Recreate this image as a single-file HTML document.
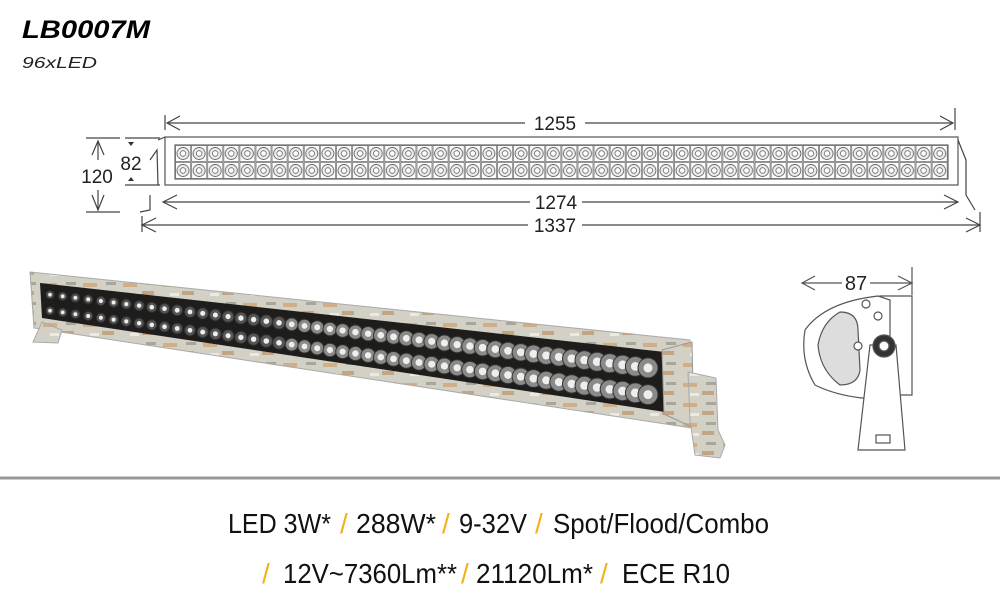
<!DOCTYPE html>
<html><head><meta charset="utf-8"><style>
body{margin:0;background:#fff;width:1000px;height:600px;overflow:hidden;font-family:"Liberation Sans",sans-serif}
</style></head><body>
<svg id="s" width="1000" height="600" viewBox="0 0 1000 600" xmlns="http://www.w3.org/2000/svg">
<defs>
<pattern id="leds" x="175" y="145" width="16.1" height="17" patternUnits="userSpaceOnUse">
<rect x="0.5" y="0.5" width="15" height="16" fill="#fff" stroke="#777" stroke-width="0.8"/>
<circle cx="8" cy="8.5" r="6" fill="#eee" stroke="#666" stroke-width="0.9"/>
<circle cx="8" cy="8.5" r="2.8" fill="#fff" stroke="#666" stroke-width="0.8"/>
</pattern>
<pattern id="camo" width="40" height="20" patternUnits="userSpaceOnUse">
<rect width="40" height="20" fill="#d3d0c6"/>
<rect x="3" y="3" width="14" height="4" fill="#d0ae88"/>
<rect x="22" y="11" width="12" height="4" fill="#c2a582"/>
<rect x="10" y="13" width="9" height="3" fill="#ebe9e4"/>
<rect x="26" y="2" width="10" height="3" fill="#a8a59b"/>
</pattern>
</defs>
<text x="22" y="38" font-size="25" font-weight="bold" font-style="italic" font-family="Liberation Sans" textLength="128" lengthAdjust="spacingAndGlyphs">LB0007M</text>
<text x="22" y="68" font-size="16" font-style="italic" font-family="Liberation Sans" fill="#222" textLength="75" lengthAdjust="spacingAndGlyphs">96xLED</text>

<g stroke="#444" fill="none" stroke-width="1.2">
<rect x="165" y="137" width="793" height="48" fill="#fff" stroke="#555"/>
<rect x="175" y="145" width="773" height="34" fill="url(#leds)" stroke="#666"/>
<path d="M158 140 L165 137 M150 195 L150 210 L140 212 M150 160 L157 150 L158 185"/>
<path d="M958 140 L966 160 L966 195 L975 210"/>
<line x1="165" y1="115" x2="165" y2="130"/><line x1="955" y1="108" x2="955" y2="130"/>
<line x1="168" y1="123" x2="525" y2="123"/><line x1="585" y1="123" x2="953" y2="123"/>
<path d="M180 116 L167 123 L180 130 M940 116 L953 123 L940 130"/>
<line x1="163" y1="202" x2="530" y2="202"/><line x1="582" y1="202" x2="958" y2="202"/>
<path d="M177 195 L163 202 L177 209 M944 195 L958 202 L944 209"/>
<line x1="142" y1="225" x2="528" y2="225"/><line x1="582" y1="225" x2="980" y2="225"/>
<line x1="142" y1="216" x2="142" y2="232"/><line x1="980" y1="212" x2="980" y2="232"/>
<path d="M156 218 L142 225 L156 232 M966 218 L980 225 L966 232"/>
<line x1="86" y1="138" x2="120" y2="138"/><line x1="86" y1="212" x2="120" y2="212"/>
<line x1="98" y1="141" x2="98" y2="160"/><line x1="98" y1="190" x2="98" y2="210"/>
<path d="M92 155 L98 141 L104 155 M92 195 L98 210 L104 195"/>
<line x1="125" y1="138" x2="160" y2="138"/><line x1="125" y1="185" x2="160" y2="185"/>
</g>
<path d="M128 142 L131 146 L134 142Z M128 181 L131 177 L134 181Z" fill="#333"/>
<g font-family="Liberation Sans" font-size="19" fill="#222" text-anchor="middle">
<text x="555" y="130">1255</text><text x="556" y="209">1274</text><text x="555" y="232">1337</text>
<text x="97" y="183">120</text><text x="131" y="170">82</text>
<text x="856" y="290" font-size="20">87</text>
</g>

<g stroke="#555" fill="#fff" stroke-width="1.2">
<line x1="802" y1="283" x2="842" y2="283"/><line x1="870" y1="283" x2="912" y2="283"/>
<path d="M815 276 L802 283 L815 290 M898 276 L912 283 L898 290" fill="none"/>
<line x1="912" y1="267" x2="912" y2="295"/>
<path d="M880 296 L912 296 L912 395 L883 395Z"/>
<path d="M878 296 Q825 302 805 330 Q800 360 815 385 Q835 395 862 398 L890 396 L890 300Z"/>
<path d="M840 312 Q822 322 818 345 Q820 370 840 385 Q858 385 860 370 L858 330 Q858 312 840 312Z" fill="#ddd"/>
<path d="M870 345 L858 450 L905 450 L896 345Z"/>
<rect x="876" y="435" width="14" height="8"/>
<circle cx="884" cy="346" r="11" fill="#333"/><circle cx="884" cy="346" r="5" fill="#fff"/>
<circle cx="866" cy="304" r="4"/><circle cx="878" cy="316" r="4"/><circle cx="858" cy="346" r="4"/>
</g>

<polygon points="30,272 690,340 692,428 34,328" fill="url(#camo)" stroke="#aaa"/>
<polygon points="40,283 665,352 665,412 42,318" fill="#1e1d1b"/>
<g id="ph"></g>
<polygon points="662,350 692,342 694,428 664,414" fill="url(#camo)" stroke="#999"/>
<path d="M688 372 L716 378 L718 430 L725 445 L720 458 L695 455 L690 420Z" fill="url(#camo)" stroke="#aaa"/>
<path d="M42 322 L62 330 L58 343 L33 342Z" fill="url(#camo)" stroke="#aaa"/>

<line x1="0" y1="478" x2="1000" y2="478" stroke="#999" stroke-width="3"/>

<g font-family="'Liberation Sans Narrow','Liberation Sans',sans-serif" font-size="28" fill="#111">
<text x="228" y="533" textLength="103" lengthAdjust="spacingAndGlyphs">LED 3W*</text>
<text x="340" y="533" fill="#f3b21b">/</text>
<text x="356" y="533" textLength="80" lengthAdjust="spacingAndGlyphs">288W*</text>
<text x="442" y="533" fill="#f3b21b">/</text>
<text x="459" y="533" textLength="68" lengthAdjust="spacingAndGlyphs">9-32V</text>
<text x="535" y="533" fill="#f3b21b">/</text>
<text x="553" y="533" textLength="216" lengthAdjust="spacingAndGlyphs">Spot/Flood/Combo</text>
<text x="262" y="583" fill="#f3b21b">/</text>
<text x="283" y="583" textLength="174" lengthAdjust="spacingAndGlyphs">12V~7360Lm**</text>
<text x="461" y="583" fill="#f3b21b">/</text>
<text x="476" y="583" textLength="117" lengthAdjust="spacingAndGlyphs">21120Lm*</text>
<text x="600" y="583" fill="#f3b21b">/</text>
<text x="622" y="583" textLength="108" lengthAdjust="spacingAndGlyphs">ECE R10</text>
</g>
</svg>
<script>
var g=document.getElementById('ph'),h='';
for(var i=0;i<48;i++){var t=i/47;var x=50+t*598;var ty=283+(352-283)*((x-40)/625),by=318+(412-318)*((x-40)/625);
var r=4+t*6;var hgt=by-ty;
[0.3,0.75].forEach(function(f){var y=ty+hgt*f;h+='<circle cx="'+x.toFixed(1)+'" cy="'+y.toFixed(1)+'" r="'+r.toFixed(1)+'" fill="'+(t<0.4?'#555':'#8a8a88')+'" stroke="#333"/><circle cx="'+x.toFixed(1)+'" cy="'+y.toFixed(1)+'" r="'+(r*0.45).toFixed(1)+'" fill="#eee"/>';});}
g.innerHTML=h;
</script>
</body></html>
